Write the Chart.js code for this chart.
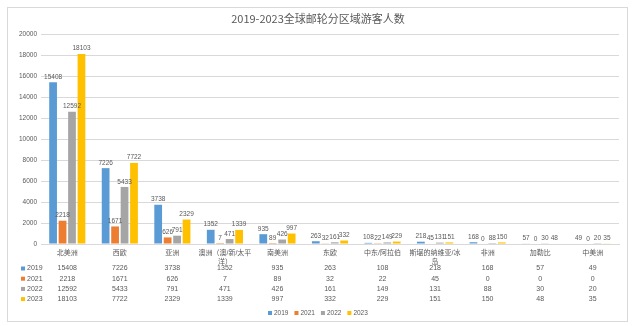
<!DOCTYPE html>
<html>
<head>
<meta charset="utf-8">
<script src="https://cdn.jsdelivr.net/npm/chart.js@4"></script>
<style>
html,body{margin:0;padding:0;background:#fff;}
#wrap{width:637px;height:326px;position:relative;}
</style>
</head>
<body>
<div id="wrap"><canvas id="c" width="637" height="326"></canvas></div>
<script>
const title = "2019-2023全球邮轮分区域游客人数";
const categories = [
  "北美洲", "西欧", "亚洲", ["澳洲（澳/新/太平", "洋）"], "南美洲", "东欧",
  "中东/阿拉伯", ["斯堪的纳维亚/冰", "岛"], "非洲", "加勒比", "中美洲"
];
const seriesNames = ["2019", "2021", "2022", "2023"];
const v2019 = [15408, 7226, 3738, 1352, 935, 263, 108, 218, 168, 57, 49];
const v2021 = [2218, 1671, 626, 7, 89, 32, 22, 45, 0, 0, 0];
const v2022 = [12592, 5433, 791, 471, 426, 161, 149, 131, 88, 30, 20];
const v2023 = [18103, 7722, 2329, 1339, 997, 332, 229, 151, 150, 48, 35];
const yTicks = [0, 2000, 4000, 6000, 8000, 10000, 12000, 14000, 16000, 18000, 20000];

const colors = ["#5B9BD5", "#ED7D31", "#A5A5A5", "#FFC000"];
const allValues = [v2019, v2021, v2022, v2023];
const FONT = '"Liberation Sans", "Noto Sans CJK SC", sans-serif';
const TXT = "#595959";

const decor = {
  id: "decor",
  beforeDraw(chart) {
    const ctx = chart.ctx;
    ctx.save();
    ctx.fillStyle = "#fff";
    ctx.fillRect(0, 0, chart.width, chart.height);
    ctx.strokeStyle = "#d9d9d9";
    ctx.lineWidth = 1;
    ctx.strokeRect(7.5, 7.5, 620, 314);
    ctx.restore();
  },
  afterDraw(chart) {
    const ctx = chart.ctx;
    const xs = chart.scales.x;
    ctx.save();
    // title
    ctx.fillStyle = TXT;
    ctx.font = '11px "Noto Sans CJK SC", ' + FONT;
    ctx.textAlign = "center";
    ctx.textBaseline = "middle";
    ctx.fillText(title, 318, 19);
    // data labels
    ctx.font = "6.5px " + FONT;
    ctx.textBaseline = "bottom";
    chart.data.datasets.forEach((ds, i) => {
      const meta = chart.getDatasetMeta(i);
      meta.data.forEach((bar, j) => {
        ctx.fillText(String(ds.data[j]), bar.x, bar.y - 2);
      });
    });
    // data table
    ctx.textBaseline = "middle";
    ctx.font = "7px " + FONT;
    chart.data.datasets.forEach((ds, i) => {
      const y = 268.5 + i * 10.2;
      ctx.fillStyle = colors[i];
      ctx.fillRect(21, y - 2, 4, 4);
      ctx.fillStyle = TXT;
      ctx.textAlign = "left";
      ctx.fillText(ds.label, 27, y);
      ctx.textAlign = "center";
      ds.data.forEach((v, j) => {
        ctx.fillText(String(v), xs.getPixelForValue(j), y);
      });
    });
    // legend
    ctx.textAlign = "left";
    ctx.font = "6.5px " + FONT;
    const widths = chart.data.datasets.map(ds => ctx.measureText(ds.label).width);
    const gap = 6;
    const total = widths.reduce((a, w) => a + 6 + w, 0) + gap * (widths.length - 1);
    let lx = Math.round(318 - total / 2);
    const ly = 313;
    chart.data.datasets.forEach((ds, i) => {
      ctx.fillStyle = colors[i];
      ctx.fillRect(lx, ly - 2, 4, 4);
      ctx.fillStyle = TXT;
      ctx.fillText(ds.label, lx + 6, ly);
      lx += 6 + widths[i] + gap;
    });
    ctx.restore();
  }
};

new Chart(document.getElementById("c"), {
  type: "bar",
  data: {
    labels: categories,
    datasets: seriesNames.map((n, i) => ({
      label: n,
      data: allValues[i],
      backgroundColor: colors[i],
      categoryPercentage: 0.72,
      barPercentage: 0.82
    }))
  },
  options: {
    responsive: false,
    animation: false,
    devicePixelRatio: 1,
    layout: { padding: { top: 34, left: 8, right: 18, bottom: 0 } },
    plugins: { legend: { display: false }, title: { display: false }, tooltip: { enabled: false } },
    scales: {
      x: {
        grid: { display: false, drawTicks: false },
        border: { display: true, color: "#d9d9d9" },
        ticks: { autoSkip: false, maxRotation: 0, minRotation: 0, color: TXT, padding: 5,
                 font: { size: 7, family: FONT } },
        afterFit(s) { s.height = 82; }
      },
      y: {
        min: 0, max: 20000,
        afterBuildTicks(s) { s.ticks = yTicks.map(v => ({ value: v })); },
        grid: { color: "#d9d9d9", drawTicks: false },
        border: { display: false },
        ticks: { color: TXT, padding: 4, font: { size: 6.5, family: FONT },
                 callback: v => String(v) },
        afterFit(s) { s.width = 33; }
      }
    }
  },
  plugins: [decor]
});
</script>
</body>
</html>
